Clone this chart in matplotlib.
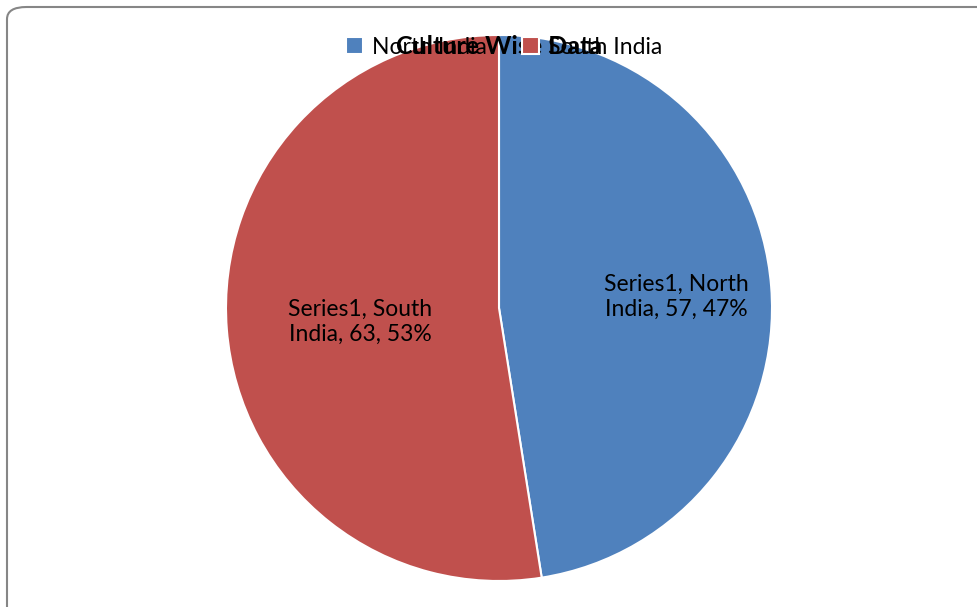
import matplotlib.pyplot as plt
from matplotlib.patches import FancyBboxPatch

# chart data
regions = ['North India', 'South India']
counts = [57, 63]
pct_labels = ['47%', '53%']
colors = ['#4F81BD', '#C0504D']
series = 'Series1'
title = 'Culture Wise Data'

plt.rcParams['font.family'] = ['Lato', 'DejaVu Sans']

W, H = 978, 607
fig = plt.figure(figsize=(W / 100, H / 100), dpi=100)

# rounded chart frame, cut off on the right and bottom
frame = FancyBboxPatch((7 / W, -0.05), 1.05, 1 - 7 / H + 0.05,
                       boxstyle='round,pad=0,rounding_size=0.02',
                       transform=fig.transFigure, fill=False,
                       edgecolor='#868686', linewidth=1.5)
fig.patches.append(frame)

# pie axes: centre (499, 308), radius 273 px
cx, cy, r = 499, 308, 273
ax = fig.add_axes([(cx - r) / W, (H - cy - r) / H, 2 * r / W, 2 * r / H])
wedges, _ = ax.pie(counts, colors=colors, startangle=90, counterclock=False,
                   wedgeprops=dict(edgecolor='white', linewidth=1.5))
ax.set_xlim(-1, 1)
ax.set_ylim(-1, 1)
ax.set_aspect('equal')
ax.axis('off')

label_pos = [(676, 297), (360, 322)]
for name, val, pct, (lx, ly) in zip(regions, counts, pct_labels, label_pos):
    first, second = name.split(' ')
    txt = f'{series}, {first}\n{second}, {val}, {pct}'
    fig.text(lx / W, 1 - ly / H, txt, ha='center', va='center',
             fontsize=16.5, linespacing=1.25, color='black')

# legend and title overlap at the top, as in the source
fig.legend(wedges, regions, loc='center', bbox_to_anchor=(504 / W, 1 - 47 / H),
           ncol=2, frameon=False, fontsize=16.5, handlelength=0.75,
           handleheight=0.75, handletextpad=0.4, columnspacing=1.5)
fig.text(499 / W, 1 - 46 / H, title, ha='center', va='center',
         fontsize=18, fontweight='bold')

fig.savefig('out.png', dpi=100)
